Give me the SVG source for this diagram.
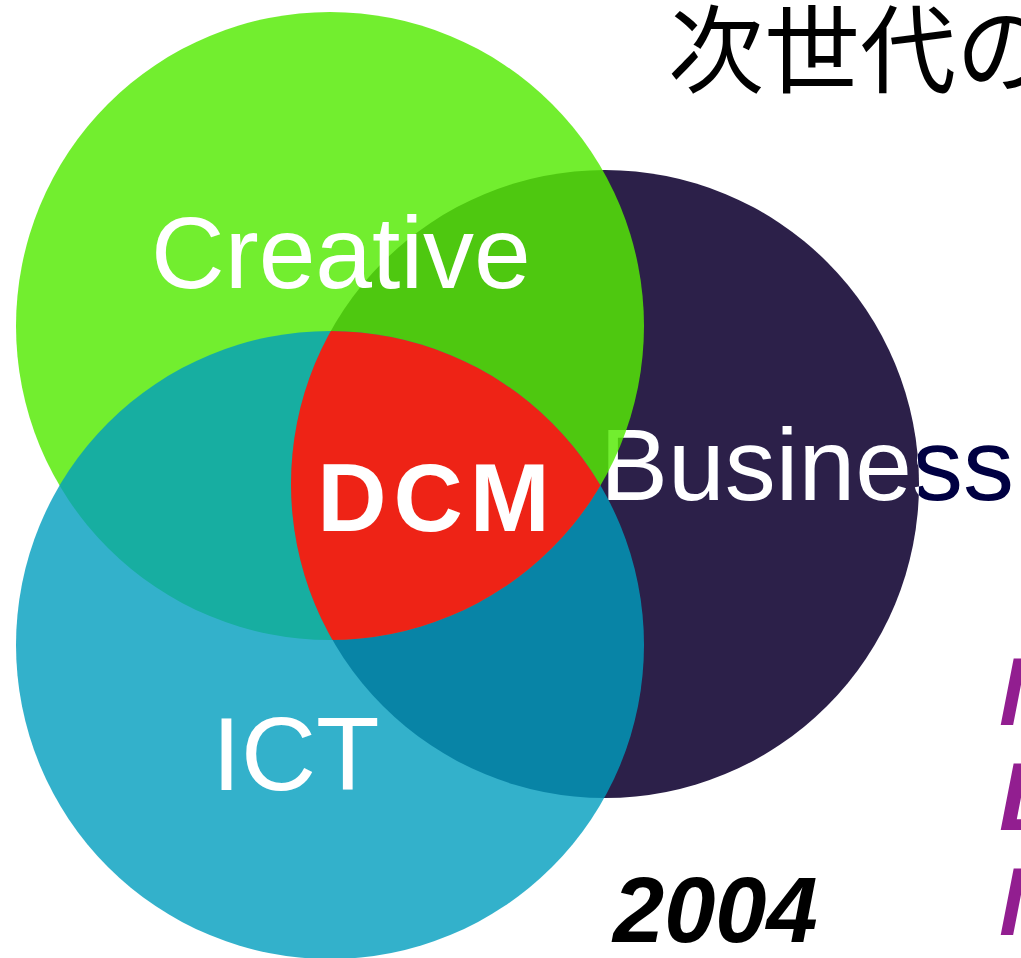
<svg xmlns="http://www.w3.org/2000/svg" width="1021" height="958" viewBox="0 0 1021 958">
  <style>
    .lbl { font-family: "Liberation Sans", Arial, sans-serif; font-size: 102px; fill: #ffffff; }
    .purple { font-family: "Liberation Sans", Arial, sans-serif; font-size: 97px; font-weight: bold; font-style: italic; fill: #921E90; }
  </style>
  <defs>
    <clipPath id="clipGreen"><circle cx="330" cy="326" r="314"/></clipPath>
    <clipPath id="clipNavy"><circle cx="605" cy="484" r="314"/></clipPath>
    <clipPath id="clipCyan"><circle cx="330" cy="645" r="314"/></clipPath>
  </defs>
  <rect width="1021" height="958" fill="#ffffff"/>

  <g id="title">
    <text x="668" y="85" font-family="'Noto Sans CJK JP', sans-serif" font-size="96" fill="#000000">次世代の</text>
  </g>

  <g id="business">
    <circle cx="605" cy="484" r="314" fill="#2C2049"/>
    <text x="600" y="500" class="lbl" style="fill:#000042">Business</text>
    <g clip-path="url(#clipNavy)">
      <text x="600" y="500" class="lbl">Business</text>
    </g>
  </g>

  <g id="creative">
    <circle cx="330" cy="326" r="314" fill="#55EA05" fill-opacity="0.83"/>
  </g>

  <g id="ict">
    <circle cx="330" cy="645" r="314" fill="#009DBE" fill-opacity="0.8"/>
  </g>

  <g id="dcm">
    <g clip-path="url(#clipGreen)">
      <g clip-path="url(#clipNavy)">
        <circle cx="330" cy="645" r="314" fill="#EE2316"/>
      </g>
    </g>
    <text x="437" y="531" text-anchor="middle" font-family="'Liberation Sans', Arial, sans-serif" font-size="96" font-weight="bold" letter-spacing="7" fill="#ffffff">DCM</text>
  </g>

  <g id="labels">
    <text x="151" y="288" class="lbl">Creative</text>
    <text x="212" y="790" class="lbl" style="font-size:104px">ICT</text>
  </g>

  <g id="year">
    <text x="613" y="942" font-family="'Liberation Sans', Arial, sans-serif" font-size="92" font-weight="bold" font-style="italic" fill="#000000">2004</text>
  </g>

  <g id="side-text">
    <text x="999" y="725" class="purple">M</text>
    <text x="999" y="830" class="purple">L</text>
    <text x="999" y="935" class="purple">M</text>
  </g>

  <g id="connectors"/>
</svg>
